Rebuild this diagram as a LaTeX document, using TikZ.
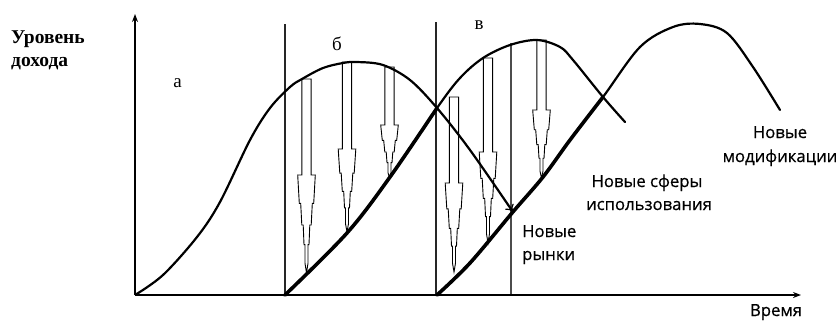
\documentclass[tikz,border=0pt]{standalone}
\usepackage{fontspec}
\setmainfont{Liberation Serif}
\newfontfamily\labelsans[FakeBold=0.6]{Open Sans}
\usetikzlibrary{arrows.meta}
\tikzset{
  axisline/.style={line width=1.8pt, -{Stealth[length=8pt,width=6pt]}},
  divider/.style={line width=1.2pt, black!85},
  bell/.style={line width=2.2pt, line cap=round, line join=round},
  growth/.style={line width=3.6pt, line cap=round, line join=round},
  arrowline/.style={line width=0.9pt, fill=white, line join=miter},
  letterlab/.style={font=\fontsize{19}{22}\selectfont, inner sep=0pt, anchor=base},
  ylab/.style={font=\bfseries\fontsize{19.5}{22}\selectfont, inner sep=0pt, anchor=base west},
  note/.style={font=\labelsans\fontsize{16.7}{20}\selectfont, inner sep=0pt, anchor=base},
}
% hollow stepped down-arrow: #1 x centre, #2 top, #3 shoulder, #4 tip
\newcommand{\hollowdown}[4]{%
  \pgfmathsetmacro\hL{#4-#3}%
  \pgfmathsetmacro\yA{#3+0.29*\hL}%
  \pgfmathsetmacro\yB{#3+0.51*\hL}%
  \pgfmathsetmacro\yC{#3+0.71*\hL}%
  \pgfmathsetmacro\yD{#3+0.90*\hL}%
  \draw[arrowline] (#1-4.6,#2) -- (#1+4.6,#2) -- (#1+4.6,#3) -- (#1+8.8,#3)
    -- (#1+7.2,\yA) -- (#1+5.8,\yA) -- (#1+4.7,\yB) -- (#1+3.3,\yB)
    -- (#1+2.5,\yC) -- (#1+1.5,\yC) -- (#1+1.5,\yD) -- (#1,#4)
    -- (#1-1.5,\yD) -- (#1-1.5,\yC) -- (#1-2.5,\yC) -- (#1-3.3,\yB)
    -- (#1-4.7,\yB) -- (#1-5.8,\yA) -- (#1-7.2,\yA) -- (#1-8.8,#3)
    -- (#1-4.6,#3) -- cycle;%
}
\begin{document}
\begin{tikzpicture}[x=1pt,y=-1pt]
\useasboundingbox[fill=white] (0,0) rectangle (839,322);

% dividers
\coordinate (d1t) at (285,24); \coordinate (d1b) at (285,295);
\coordinate (d2t) at (436,22); \coordinate (d2b) at (436,295);
\coordinate (d3t) at (511,43); \coordinate (d3b) at (511,295);
\draw[divider] (d1t) -- (d1b);
\draw[divider] (d2t) -- (d2b);
\draw[divider, black!70] (d3t) -- (d3b);

% hollow arrows
\hollowdown{306.5}{79}{175}{273}
\hollowdown{347}{62}{149}{232}
\hollowdown{389.5}{67}{125}{178}
\hollowdown{454}{97}{183}{272}
\hollowdown{488}{58}{152}{243}
\hollowdown{541.5}{40}{110}{178}

% curve a (with arrow continuation)
\draw[bell, line cap=butt, -{To[length=7pt,width=10pt,line width=1.2pt]}] plot[smooth, tension=0.55] coordinates {
  (135,295) (163,275) (197,237) (220,202) (250,140) (270,108) (290,87)
  (302,79) (323,68) (343,63) (357,62) (383,65) (410,80) (437,108)
  (470,150) (513,212)};

% curve b
\draw[bell] plot[smooth, tension=0.55] coordinates {
  (285,295) (347,233) (390,177) (437,108) (460,78) (483,58) (510,45)
  (537,40) (560,47) (573,60) (603,97) (625,122)};
\draw[growth] plot[smooth, tension=0.55] coordinates {
  (285,295) (347,233) (390,177) (437,108)};

% curve c
\draw[bell] plot[smooth, tension=0.55] coordinates {
  (437,295) (470,263) (512,213) (543,177) (570,140) (603,97) (640,47)
  (673,27) (700,24) (727,33) (753,67) (780,110)};
\draw[growth] plot[smooth, tension=0.55] coordinates {
  (437,295) (470,263) (512,213) (543,177) (570,140) (603,97)};

% axes
\coordinate (o) at (135,295);
\coordinate (ytop) at (135,14);
\coordinate (xend) at (801,295);
\draw[axisline] (o) -- (ytop);
\draw[axisline] (o) -- (xend);

% labels
\node[ylab] (yl1) at (11,43) {Уровень};
\node[ylab] (yl2) at (11,66) {дохода};
\node[letterlab] (la) at (177.5,87) {а};
\node[letterlab] (lb) at (337,50) {б};
\node[letterlab] (lc) at (479,29) {в};

\node[note, anchor=base west] (nr1) at (522,237) {Новые};
\node[note, anchor=base west] (nr2) at (522,260) {рынки};
\node[note] (ns1) at (647,187) {Новые сферы};
\node[note] (ns2) at (649,210) {использования};
\node[note] (nm1) at (780,138) {Новые};
\node[note] (nm2) at (780,162) {модификации};
\node[note] (tm) at (776,316) {Время};
\end{tikzpicture}
\end{document}
